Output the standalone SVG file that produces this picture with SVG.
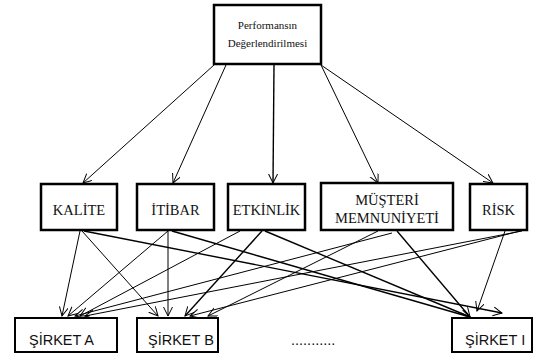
<svg xmlns="http://www.w3.org/2000/svg" width="536" height="358" viewBox="0 0 536 358">
<defs>
<marker id="arr" markerUnits="userSpaceOnUse" markerWidth="12" markerHeight="12" refX="9" refY="4.5" orient="auto">
<path d="M0,0 L9,4.5 L0,9" fill="none" stroke="#000" stroke-width="1"/>
</marker>
<style>
.box{fill:#fff;stroke:#000;stroke-width:2.5}
.sbox{fill:#fff;stroke:#000;stroke-width:2}
.tm{font-family:'Liberation Serif','Times New Roman',serif;fill:#111;text-anchor:middle}
.sn{font-family:'Liberation Sans',Arial,sans-serif;fill:#111;font-size:14.5px}
.c line{stroke:#000;stroke-width:1;marker-end:url(#arr)}
.c line.t{stroke-width:1.4}
</style>
</defs>
<g class="c" id="connectors">
<line x1="214" y1="65" x2="83" y2="183"/>
<line x1="226" y1="65" x2="173" y2="183"/>
<line class="t" x1="274" y1="65" x2="273" y2="183" stroke="#333"/>
<line x1="321" y1="65" x2="378" y2="183"/>
<line x1="321" y1="65" x2="493" y2="183"/>
<line x1="80" y1="231" x2="62" y2="316"/>
<line x1="82" y1="231" x2="158" y2="316"/>
<line class="t" x1="84" y1="231" x2="502" y2="313"/>
<line x1="168" y1="231" x2="68" y2="316"/>
<line x1="168" y1="231" x2="168" y2="316"/>
<line class="t" x1="172" y1="231" x2="470" y2="317"/>
<line x1="240" y1="231" x2="80" y2="316"/>
<line class="t" x1="262" y1="231" x2="185" y2="316"/>
<line class="t" x1="265" y1="231" x2="470" y2="317"/>
<line x1="392" y1="233" x2="75" y2="316"/>
<line x1="378" y1="231" x2="208" y2="316"/>
<line class="t" x1="397" y1="231" x2="470" y2="317"/>
<line x1="522" y1="231" x2="85" y2="316"/>
<line x1="520" y1="231" x2="190" y2="316"/>
<line x1="505" y1="231" x2="477" y2="311"/>
</g>
<g id="performans">
<rect class="box" x="214" y="5" width="107" height="59" stroke-width="3"/>
<text class="tm" x="267.5" y="29" font-size="11">Performansın</text>
<text class="tm" x="267.5" y="47" font-size="11">Değerlendirilmesi</text>
</g>
<g id="kalite">
<rect class="box" x="41" y="184" width="76" height="46"/>
<text class="tm" x="79" y="215" font-size="14.5">KALİTE</text>
</g>
<g id="itibar">
<rect class="box" x="137" y="184" width="77" height="46"/>
<text class="tm" x="175.5" y="215" font-size="14.5">İTİBAR</text>
</g>
<g id="etkinlik">
<rect class="box" x="228" y="184" width="77" height="46"/>
<text class="tm" x="266.5" y="215" font-size="14.5">ETKİNLİK</text>
</g>
<g id="musteri">
<rect class="box" x="321" y="183" width="132" height="47"/>
<text class="tm" x="387" y="205" font-size="14.5">MÜŞTERİ</text>
<text class="tm" x="387" y="223" font-size="14.5">MEMNUNİYETİ</text>
</g>
<g id="risk">
<rect class="box" x="470" y="184" width="57" height="46"/>
<text class="tm" x="498.5" y="215" font-size="14.5">RİSK</text>
</g>
<g id="sirketA">
<rect class="sbox" x="15" y="318" width="102" height="34"/>
<text class="sn" x="29" y="345">ŞİRKET A</text>
</g>
<g id="sirketB">
<rect class="sbox" x="137" y="318" width="81" height="34"/>
<text class="sn" x="148" y="345">ŞİRKET B</text>
</g>
<g id="dots">
<text class="sn" x="291" y="345">...........</text>
</g>
<g id="sirketI">
<rect class="sbox" x="452" y="318" width="80" height="34"/>
<text class="sn" x="465" y="345">ŞİRKET I</text>
</g>
</svg>
